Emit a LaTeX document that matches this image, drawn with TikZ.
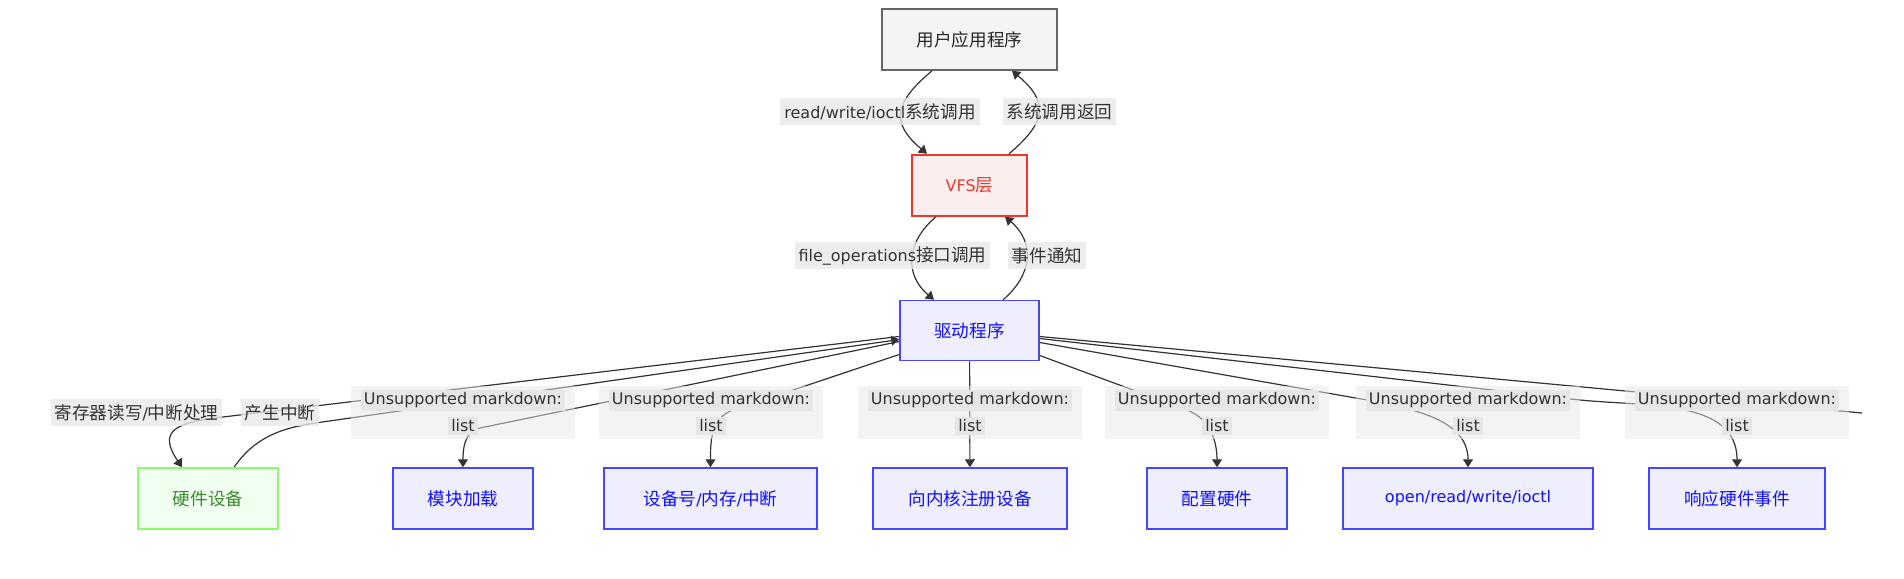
\documentclass[tikz,border=0pt]{standalone}
\usepackage{fontspec}
\setmainfont{DejaVu Sans}
\newfontfamily\cjk[Scale=1.1]{Noto Sans CJK SC}
\usepackage{tikz}
\usetikzlibrary{positioning,arrows.meta,calc}
\pgfdeclarelayer{background}
\pgfsetlayers{background,main}

\definecolor{edgegray}{HTML}{333333}
\definecolor{lblbg}{HTML}{E8E8E8}
\definecolor{lblinner}{HTML}{E6E6E6}
\definecolor{appfill}{HTML}{F4F4F4}
\definecolor{appline}{HTML}{666666}
\definecolor{vfsfill}{HTML}{FDEEEE}
\definecolor{vfsline}{HTML}{E8392B}
\definecolor{vfstext}{HTML}{E53A2F}
\definecolor{nodefill}{HTML}{EEEEFF}
\definecolor{nodeline}{HTML}{4646FF}
\definecolor{nodetext}{HTML}{1010FF}
\definecolor{hwfill}{HTML}{F1FFF0}
\definecolor{hwline}{HTML}{88FF66}
\definecolor{hwtext}{HTML}{3B8A2E}

\newcommand{\zh}[1]{{\cjk #1}}
\newcommand{\hl}[1]{{\setlength{\fboxsep}{1.5pt}\colorbox{lblinner}{#1}}}

\begin{document}
\begin{tikzpicture}[
  x=0.5pt, y=0.5pt,
  font=\fontsize{8pt}{13.5pt}\selectfont,
  box/.style={draw=nodeline,fill=nodefill,text=nodetext,line width=0.75pt,
              minimum height=30.5pt,inner sep=0pt},
  appbox/.style={box,draw=appline,fill=appfill,text=black!85},
  vfsbox/.style={box,draw=vfsline,fill=vfsfill,text=vfstext,line width=1pt},
  hwbox/.style={box,draw=hwline,fill=hwfill,text=hwtext},
  lbl/.style={fill=lblbg,fill opacity=0.8,text opacity=1,text=edgegray,
              inner xsep=2pt,inner ysep=0pt,minimum height=13.5pt},
  mdlbl/.style={fill=lblbg,fill opacity=0.5,text opacity=1,text=edgegray,align=center,
                minimum width=112pt,minimum height=26.5pt,inner sep=0pt},
  arr/.style={draw=edgegray,line width=0.6pt,-{Triangle[length=4pt,width=5pt]}},
  wire/.style={draw=edgegray,line width=0.6pt},
]
  \useasboundingbox (0,0) rectangle (1904,-578);

  % kernel stack
  \node[appbox,minimum width=87.5pt] (uapp) at (969.5,-39.5) {\zh{用户应用程序}};
  \node[vfsbox,minimum width=57.5pt,below=41.5pt of uapp] (vfs) {VFS\zh{层}};
  \node[box,minimum width=69.5pt,minimum height=30pt,below=41.5pt of vfs] (drv) {\zh{驱动程序}};

  % bottom row
  \node[hwbox,minimum width=70pt] (hw) at (208,-498.5) {\zh{硬件设备}};
  \node[box,minimum width=70pt] (mod) at (463,-498.5) {\zh{模块加载}};
  \node[box,minimum width=106.5pt] (res) at (710.5,-498.5) {\zh{设备号}/\zh{内存}/\zh{中断}};
  \node[box,minimum width=97pt] (reg) at (970,-498.5) {\zh{向内核注册设备}};
  \node[box,minimum width=70pt] (cfg) at (1217,-498.5) {\zh{配置硬件}};
  \node[box,minimum width=125pt] (ops) at (1468,-498.5) {open/read/write/ioctl};
  \node[box,minimum width=88pt] (evt) at (1737,-498.5) {\zh{响应硬件事件}};
  \coordinate (stray) at (1862,-413);

  % edge labels
  \node[lbl] (lsys) at (880,-111.5) {read/write/ioctl\zh{系统调用}};
  \node[lbl] (lret) at (1059.5,-111.5) {\zh{系统调用返回}};
  \node[lbl] (lfops) at (892.5,-255.5) {file\_operations\zh{接口调用}};
  \node[lbl] (levt) at (1047,-255.5) {\zh{事件通知}};
  \node[lbl] (lrw) at (136.5,-412.5) {\zh{寄存器读写}/\zh{中断处理}};
  \node[lbl] (lirq) at (280,-412.5) {\zh{产生中断}};
  \node[mdlbl] (l1) at (463,-412.5) {\hl{Unsupported markdown:}\\\hl{list}};
  \node[mdlbl] (l2) at (711,-412.5) {\hl{Unsupported markdown:}\\\hl{list}};
  \node[mdlbl] (l3) at (970,-412.5) {\hl{Unsupported markdown:}\\\hl{list}};
  \node[mdlbl] (l4) at (1217,-412.5) {\hl{Unsupported markdown:}\\\hl{list}};
  \node[mdlbl] (l5) at (1468,-412.5) {\hl{Unsupported markdown:}\\\hl{list}};
  \node[mdlbl] (l6) at (1737,-412.5) {\hl{Unsupported markdown:}\\\hl{list}};

  \begin{pgfonlayer}{background}
    \draw[arr] ([xshift=-18.75pt]uapp.south) to[out=-140,in=140,looseness=1.5] ([xshift=-21.25pt]vfs.north);
    \draw[arr] ([xshift=19.75pt]vfs.north) to[out=40,in=-40,looseness=1.5] ([xshift=21.25pt]uapp.south);
    \draw[arr] ([xshift=-16.75pt]vfs.south) to[out=-140,in=140,looseness=1.2] ([xshift=-17.75pt]drv.north);
    \draw[arr] ([xshift=16.75pt]drv.north) to[out=40,in=-40,looseness=1.2] ([xshift=17.75pt]vfs.south);
    % driver <-> hardware
    \draw[arr] ([yshift=-3pt]drv.west) -- ([yshift=-2.25pt]lrw.east)
      to[out=187,in=124,looseness=1.8] ([xshift=-13pt]hw.north);
    \draw[arr] ([xshift=13pt]hw.north) to[out=55,in=188] ([yshift=2pt]lirq.south east)
      -- ([yshift=-4.5pt]drv.west);
    % driver -> parts
    \draw[arr] ([yshift=-5.5pt]drv.west) -- ($(l1.center)+(8.5pt,-7.75pt)$) to[out=192,in=90] (mod.north);
    \draw[arr] ([yshift=-12pt]drv.west) -- ($(l2.center)+(11pt,1.25pt)$) to[out=199,in=90] (res.north);
    \draw[arr] (drv) -- (reg);
    \draw[arr] ([yshift=-12.5pt]drv.east) -- ($(l4.center)+(-15pt,1.25pt)$) to[out=-21,in=90] (cfg.north);
    \draw[arr] ([yshift=-6pt]drv.east) -- ($(l5.center)+(-50.5pt,6.25pt)$) to[out=-11,in=90] (ops.north);
    \draw[arr] ([yshift=-4pt]drv.east) -- ($(l6.center)+(-83pt,6.75pt)$) to[out=-7,in=90] (evt.north);
    \draw[wire] ([yshift=-3pt]drv.east) -- (stray);
  \end{pgfonlayer}
\end{tikzpicture}
\end{document}
